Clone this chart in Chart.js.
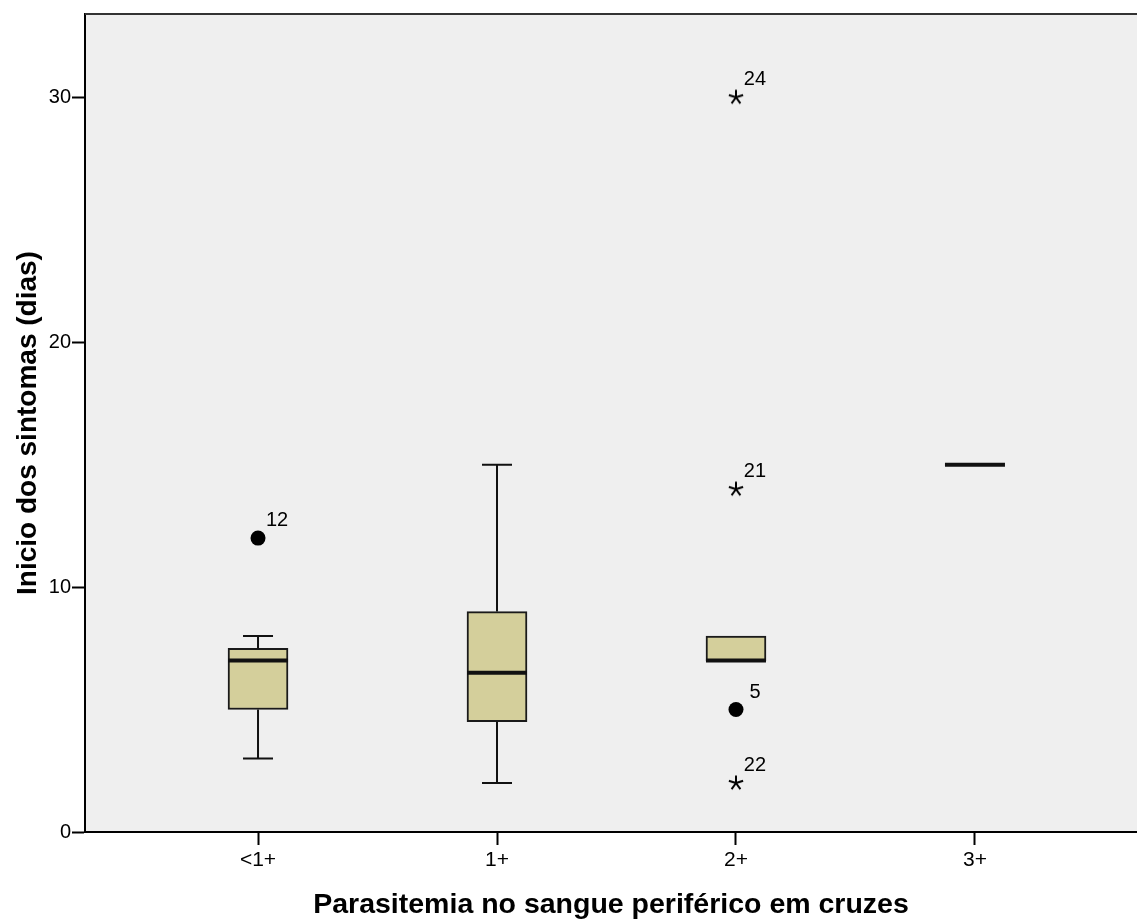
<!DOCTYPE html>
<html>
<head>
<meta charset="utf-8">
<script src="https://cdn.jsdelivr.net/npm/chart.js@4/dist/chart.umd.min.js"></script>
<style>
  body { margin: 0; background: #fff; }
  canvas { display: block; }
</style>
</head>
<body>
<canvas id="boxChart" width="1137" height="920"></canvas>
<script>
// categories and box statistics
const categories = ['<1+', '1+', '2+', '3+'];
const q1Values = [5, 4.5, 7, null];
const medianValues = [7, 6.5, 7, 15];
const q3Values = [7.5, 9, 8, null];
const whiskerLow = [3, 2, null, null];
const whiskerHigh = [8, 15, null, null];

// outliers (circles) and extremes (stars), with their case labels
const outlierCat = [0, 2];
const outlierValues = [12, 5];
const outlierLabels = ['12', '5'];
const extremeCat = [2, 2, 2];
const extremeValues = [30, 14, 2];
const extremeLabels = ['24', '21', '22'];

const yTicks = [0, 10, 20, 30];

const fontFamily = '"Liberation Sans", Arial, sans-serif';

// five-armed asterisk used for extreme values
function makeStar() {
    const c = document.createElement('canvas');
    c.width = 18;
    c.height = 18;
    const g = c.getContext('2d');
    g.strokeStyle = '#000';
    g.lineWidth = 2;
    g.lineCap = 'butt';
    for (let k = 0; k < 5; k++) {
        const a = (-90 + k * 72) * Math.PI / 180;
        g.beginPath();
        g.moveTo(9, 9);
        g.lineTo(9 + 7.5 * Math.cos(a), 9 + 7.5 * Math.sin(a));
        g.stroke();
    }
    return c;
}

const boxData = categories.map((c, i) => ({
    x: i + 1,
    y: q1Values[i] === null ? null : [q1Values[i], q3Values[i]]
}));
const outlierData = outlierValues.map((v, i) => ({ x: outlierCat[i] + 1, y: v }));
const extremeData = extremeValues.map((v, i) => ({ x: extremeCat[i] + 1, y: v }));

const plotArea = {
    id: 'plotArea',
    beforeDraw(chart) {
        const { ctx, chartArea } = chart;
        ctx.save();
        ctx.fillStyle = '#efefef';
        ctx.fillRect(chartArea.left, chartArea.top, chartArea.right - chartArea.left, chartArea.bottom - chartArea.top);
        ctx.restore();
    },
    afterDraw(chart) {
        const { ctx, chartArea } = chart;
        ctx.save();
        ctx.strokeStyle = '#333';
        ctx.lineWidth = 2;
        ctx.beginPath();
        ctx.moveTo(chartArea.left, chartArea.top);
        ctx.lineTo(chartArea.right, chartArea.top);
        ctx.stroke();
        ctx.restore();
    }
};

const boxParts = {
    id: 'boxParts',
    afterDatasetsDraw(chart) {
        const { ctx } = chart;
        const xs = chart.scales.x;
        const ys = chart.scales.y;
        ctx.save();
        ctx.strokeStyle = '#111';
        ctx.lineCap = 'butt';
        categories.forEach((c, i) => {
            const cx = xs.getPixelForValue(i + 1);
            ctx.lineWidth = 2;
            if (whiskerLow[i] !== null) {
                const yl = ys.getPixelForValue(whiskerLow[i]);
                ctx.beginPath();
                ctx.moveTo(cx, ys.getPixelForValue(q1Values[i]));
                ctx.lineTo(cx, yl);
                ctx.moveTo(cx - 15, yl);
                ctx.lineTo(cx + 15, yl);
                ctx.stroke();
            }
            if (whiskerHigh[i] !== null) {
                const yh = ys.getPixelForValue(whiskerHigh[i]);
                ctx.beginPath();
                ctx.moveTo(cx, ys.getPixelForValue(q3Values[i]));
                ctx.lineTo(cx, yh);
                ctx.moveTo(cx - 15, yh);
                ctx.lineTo(cx + 15, yh);
                ctx.stroke();
            }
            const ym = ys.getPixelForValue(medianValues[i]);
            ctx.lineWidth = 4;
            ctx.beginPath();
            ctx.moveTo(cx - 30, ym);
            ctx.lineTo(cx + 30, ym);
            ctx.stroke();
        });

        ctx.fillStyle = '#000';
        ctx.font = '20px ' + fontFamily;
        ctx.textAlign = 'center';
        ctx.textBaseline = 'alphabetic';
        const label = (cat, v, txt) => {
            const px = xs.getPixelForValue(cat + 1);
            const py = ys.getPixelForValue(v);
            ctx.fillText(txt, px + 19, py - 12);
        };
        outlierValues.forEach((v, i) => label(outlierCat[i], v, outlierLabels[i]));
        extremeValues.forEach((v, i) => label(extremeCat[i], v, extremeLabels[i]));
        ctx.restore();
    }
};

new Chart(document.getElementById('boxChart'), {
    type: 'bar',
    data: {
        datasets: [
            {
                type: 'bar',
                data: boxData,
                backgroundColor: '#d4cf9b',
                borderColor: '#1a1a1a',
                borderWidth: 2,
                borderSkipped: false,
                barThickness: 60
            },
            {
                type: 'scatter',
                data: outlierData,
                pointStyle: 'circle',
                pointRadius: 7.5,
                backgroundColor: '#000',
                borderColor: '#000',
                borderWidth: 0
            },
            {
                type: 'scatter',
                data: extremeData,
                pointStyle: makeStar()
            }
        ]
    },
    options: {
        responsive: false,
        animation: false,
        layout: { autoPadding: false, padding: { top: 14, left: 0, right: 0, bottom: 0 } },
        plugins: {
            legend: { display: false },
            tooltip: { enabled: false }
        },
        scales: {
            x: {
                type: 'linear',
                offset: false,
                min: 0.276,
                max: 4.678,
                afterBuildTicks(scale) {
                    scale.ticks = categories.map((c, i) => ({ value: i + 1 }));
                },
                afterFit(scale) {
                    scale.height = 88;
                    scale.paddingRight = 0;
                    scale.paddingLeft = 0;
                },
                ticks: {
                    color: '#000',
                    font: { family: fontFamily, size: 21 },
                    padding: 3,
                    maxRotation: 0,
                    callback: (v) => categories[v - 1]
                },
                grid: {
                    offset: false,
                    drawOnChartArea: false,
                    drawTicks: true,
                    tickLength: 13,
                    tickColor: '#000',
                    tickWidth: 2
                },
                border: { display: true, color: '#000', width: 2 },
                title: {
                    display: true,
                    text: 'Parasitemia no sangue periférico em cruzes',
                    color: '#000',
                    font: { family: fontFamily, size: 28.5, weight: 'bold', lineHeight: 1 },
                    padding: { top: 0, bottom: 1 }
                }
            },
            y: {
                min: 0,
                max: 33.4,
                afterBuildTicks(scale) {
                    scale.ticks = yTicks.map(v => ({ value: v }));
                },
                afterFit(scale) { scale.width = 85; },
                ticks: {
                    color: '#000',
                    font: { family: fontFamily, size: 20 },
                    padding: 1
                },
                grid: {
                    drawOnChartArea: false,
                    drawTicks: true,
                    tickLength: 13,
                    tickColor: '#000',
                    tickWidth: 2
                },
                border: { display: true, color: '#000', width: 2 },
                title: {
                    display: true,
                    text: 'Inicio dos sintomas (dias)',
                    color: '#000',
                    font: { family: fontFamily, size: 28, weight: 'bold' },
                    padding: { top: 11, bottom: 0 }
                }
            }
        }
    },
    plugins: [plotArea, boxParts]
});
</script>
</body>
</html>
